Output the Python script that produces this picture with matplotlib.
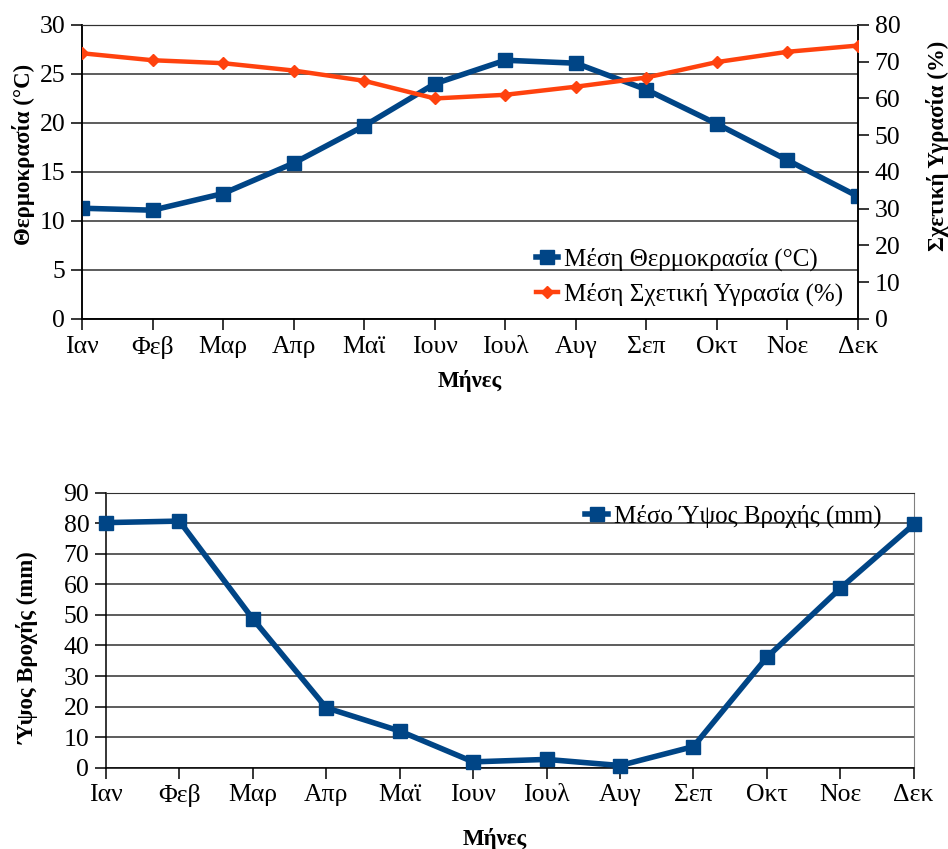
import matplotlib
matplotlib.use('Agg')
import matplotlib.pyplot as plt

plt.rcParams['font.family'] = ['Liberation Serif', 'DejaVu Serif']

# data
months = ['Ιαν', 'Φεβ', 'Μαρ', 'Απρ', 'Μαϊ', 'Ιουν', 'Ιουλ', 'Αυγ', 'Σεπ', 'Οκτ', 'Νοε', 'Δεκ']
temperature = [11.3, 11.1, 12.8, 15.9, 19.7, 24.0, 26.4, 26.1, 23.4, 19.9, 16.2, 12.5]
humidity = [72.3, 70.4, 69.6, 67.6, 64.8, 60.0, 61.0, 63.2, 65.7, 69.9, 72.7, 74.4]
rainfall = [80.2, 80.7, 48.7, 19.6, 12.0, 1.9, 2.7, 0.7, 6.9, 36.1, 58.7, 79.6]

blue = '#004586'
orange = '#ff420e'
grid_col = '#303030'
x = list(range(len(months)))

fig = plt.figure(figsize=(9.48, 8.49), dpi=100)

# ---- top chart: temperature + humidity
ax1 = fig.add_axes([0.0865, 0.6243, 0.8186, 0.3463])
ax2 = ax1.twinx()

l1, = ax1.plot(x, temperature, color=blue, lw=4, marker='s', ms=10,
               label='Μέση Θερμοκρασία (°C)', zorder=3)
l2, = ax2.plot(x, humidity, color=orange, lw=3.2, marker='D', ms=6,
               label='Μέση Σχετική Υγρασία (%)', zorder=3)

ax1.set_xlim(0, 11)
ax1.set_ylim(0, 30)
ax1.set_yticks(range(0, 31, 5))
ax2.set_ylim(0, 80)
ax2.set_yticks(range(0, 81, 10))
ax1.set_xticks(x)
ax1.set_xticklabels(months)
ax1.yaxis.grid(True, color=grid_col, lw=1.1)
ax1.set_axisbelow(True)

for a in (ax1, ax2):
    a.tick_params(labelsize=18.5, length=8, width=1.1, direction='out', pad=4)
    a.spines['top'].set_color(grid_col)
    for s in ('left', 'right', 'bottom'):
        a.spines[s].set_linewidth(1.1)

ax1.set_ylabel('Θερμοκρασία (°C)', fontsize=16.5, fontweight='bold')
ax1.yaxis.set_label_coords(-0.061, 0.56)
ax2.set_ylabel('Σχετική Υγρασία (%)', fontsize=16.5, fontweight='bold')
ax2.yaxis.set_label_coords(1.087, 0.59)
ax1.set_xlabel('Μήνες', fontsize=16.5, fontweight='bold')
ax1.xaxis.set_label_coords(0.5, -0.173)

ax2.legend(handles=[l1, l2], loc='lower right', bbox_to_anchor=(0.994, 0.01),
           frameon=False, fontsize=18, handlelength=0.9, handletextpad=0.25,
           borderaxespad=0, labelspacing=0.45)

# ---- bottom chart: rainfall
ax3 = fig.add_axes([0.1118, 0.0958, 0.852, 0.3239])
l3, = ax3.plot(x, rainfall, color=blue, lw=4, marker='s', ms=10,
               label='Μέσο Ύψος Βροχής (mm)', zorder=3, clip_on=False)
ax3.set_xlim(0, 11)
ax3.set_ylim(0, 90)
ax3.set_yticks(range(0, 91, 10))
ax3.set_xticks(x)
ax3.set_xticklabels(months)
ax3.yaxis.grid(True, color=grid_col, lw=1.1)
ax3.set_axisbelow(True)
ax3.tick_params(labelsize=18.5, length=8, width=1.1, direction='out', pad=4)
ax3.spines['top'].set_color(grid_col)
ax3.spines['right'].set_color('#808080')
for s in ('left', 'bottom'):
    ax3.spines[s].set_linewidth(1.1)

ax3.set_ylabel('Ύψος Βροχής (mm)', fontsize=16.5, fontweight='bold')
ax3.yaxis.set_label_coords(-0.083, 0.435)
ax3.set_xlabel('Μήνες', fontsize=16.5, fontweight='bold')
ax3.xaxis.set_label_coords(0.4816, -0.219)

ax3.legend(handles=[l3], loc='upper right', bbox_to_anchor=(0.973, 0.992),
           frameon=False, fontsize=18, handlelength=0.9, handletextpad=0.25,
           borderaxespad=0)

fig.savefig('out.png', dpi=100)
